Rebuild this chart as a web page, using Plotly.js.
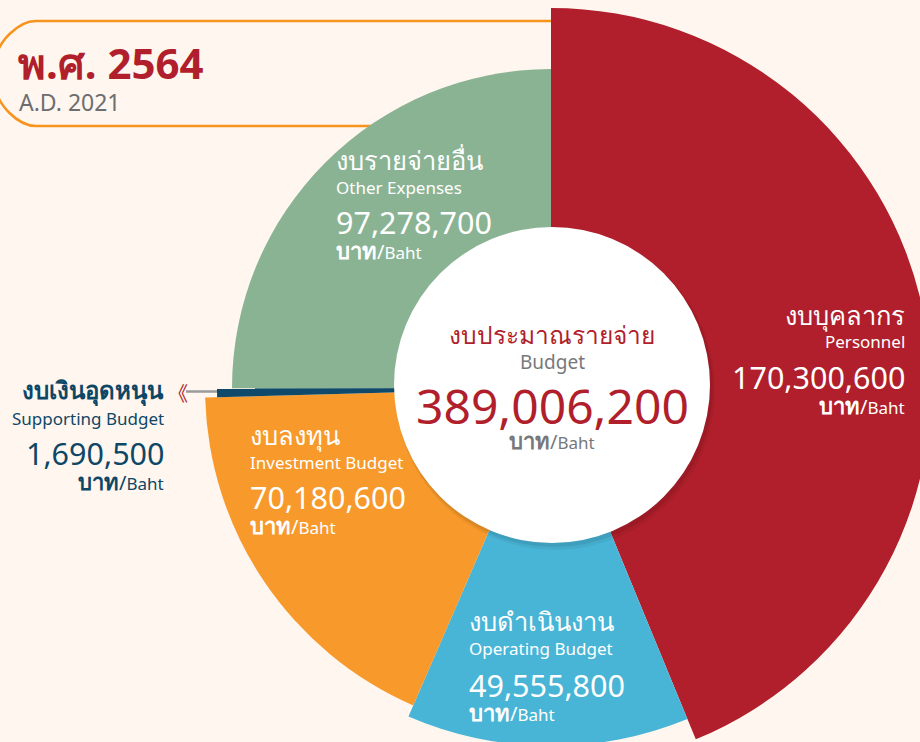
<!DOCTYPE html>
<html>
<head>
<meta charset="utf-8">
<script src="https://cdn.plot.ly/plotly-3.0.1.min.js"></script>
<style>
  html, body { margin: 0; padding: 0; overflow: hidden; background: #FEF6EF; }
  #plot { width: 1000px; height: 800px; }
</style>
</head>
<body>
<div id="plot"></div>
<script>
// ---- data (clockwise from 12 o'clock) ----
const categoriesTh = ['งบบุคลากร', 'งบดำเนินงาน', 'งบลงทุน', 'งบเงินอุดหนุน', 'งบรายจ่ายอื่น'];
const categoriesEn = ['Personnel', 'Operating Budget', 'Investment Budget', 'Supporting Budget', 'Other Expenses'];
const values = [170300600, 49555800, 70180600, 1690500, 97278700];
const totalTh = 'งบประมาณรายจ่าย';
const totalEn = 'Budget';
const totalValue = 389006200;
const yearTh = 'พ.ศ. 2564';
const yearEn = 'A.D. 2021';
const unitTh = 'บาท';
const unitEn = 'Baht';

// ---- styles ----
const colors = ['#B01F2B', '#48B5D6', '#F7992B', '#0F4A6A', '#8AB394'];
const radii = [380, 358, 346, 334, 319];      // display radius of each slice (px)
const textColors = ['#FFFFFF', '#FFFFFF', '#FFFFFF', '#0E4766', '#FFFFFF'];

const W = 1000, H = 800;           // layout is larger than the window; window shows top-left 920x742
const CX = 551, CY = 388, R = 385;
const fx = px => px / W;
const fy = py => 1 - py / H;
const FONT = 'Noto Sans, sans-serif';

// angular geometry derived from the values
const sum = values.reduce((a, b) => a + b, 0);
const widths = values.map(v => v / sum * 360);
const centers = [];
let acc = 0;
widths.forEach(w => { centers.push(acc + w / 2); acc += w; });

const trace = {
  type: 'barpolar',
  r: radii,
  theta: centers,
  width: widths,
  marker: { color: colors, line: { width: 0 } },
  hoverinfo: 'skip',
  showlegend: false
};

const fmt = n => n.toLocaleString('en-US');

// label layout: [x, anchor, yTh, yEn, yNum, yUnit]
const labelPos = [
  [907, 'right', 315, 341, 377, 405],
  [467, 'left', 621, 648, 685, 712],
  [248, 'left', 435, 462, 497, 525],
  [166, 'right', 390, 418, 453, 481],
  [334, 'left', 160, 187, 222, 250]
];

const annotations = [];
function ann(text, x, y, anchor, size, color, extra) {
  annotations.push(Object.assign({
    text: text, x: fx(x), y: fy(y), xref: 'paper', yref: 'paper',
    xanchor: anchor, yanchor: 'middle', showarrow: false,
    font: { family: FONT, size: size, color: color }
  }, extra || {}));
}
function unitText(thSize, enSize) {
  return '<span style="font-size:' + thSize + 'px;font-weight:bold">' + unitTh + '</span>/' +
         '<span style="font-size:' + enSize + 'px">' + unitEn + '</span>';
}

categoriesTh.forEach((th, i) => {
  const p = labelPos[i], c = textColors[i];
  const thText = i === 3 ? '<b>' + th + '</b>' : th;
  ann(thText, p[0], p[2], p[1], i === 3 ? 24 : 25.5, c);
  ann(categoriesEn[i], p[0], p[3], p[1], 17, c);
  ann(fmt(values[i]), p[0], p[4], p[1], 30.5, c);
  ann(unitText(22, 17), p[0], p[5], p[1], 20, c);
});

// center
ann(totalTh, 552, 335, 'center', 24.5, '#B01F2B');
ann(totalEn, 552, 362, 'center', 19, '#77787B');
ann(fmt(totalValue), 552, 406, 'center', 48, '#B01F2B');
ann(unitText(22, 17), 552, 440, 'center', 20, '#77787B');

// year
ann('<b>' + yearTh + '</b>', 16, 63, 'left', 42, '#B01F2B');
ann(yearEn, 17, 102, 'left', 23, '#6D6E71');

// pointer chevron
annotations.push({
  text: '《', x: fx(178), y: fy(392), xref: 'paper', yref: 'paper',
  xanchor: 'center', yanchor: 'middle', showarrow: false,
  font: { family: 'Noto Sans CJK SC', size: 20, color: '#B01F2B' }
});

// ---- shapes ----
const bx0 = -4, bx1 = 552, bt = 21, bb = 126, br = 40, k = br * 0.45;
const boxPath = [
  'M', fx(bx1), fy(bt), 'L', fx(bx0 + br), fy(bt),
  'C', fx(bx0 + br - k), fy(bt), fx(bx0), fy(bt + br - k), fx(bx0), fy(bt + br),
  'L', fx(bx0), fy(bb - br),
  'C', fx(bx0), fy(bb - br + k), fx(bx0 + br - k), fy(bb), fx(bx0 + br), fy(bb),
  'L', fx(bx1), fy(bb)
].join(' ');

function circle(cx, cy, r, fill, layer) {
  return { type: 'circle', xref: 'paper', yref: 'paper', layer: layer,
    x0: fx(cx - r), x1: fx(cx + r), y0: fy(cy + r), y1: fy(cy - r),
    fillcolor: fill, line: { width: 0 } };
}

const shapes = [
  { type: 'path', xref: 'paper', yref: 'paper', layer: 'below', path: boxPath,
    line: { color: '#F7941D', width: 2.5 } },
  { type: 'line', xref: 'paper', yref: 'paper', layer: 'below',
    x0: fx(186), x1: fx(222), y0: fy(391.5), y1: fy(391.5),
    line: { color: '#9A9A9A', width: 2.5 } },
  circle(555, 390, 160, 'rgba(0,0,0,0.05)', 'above'),
  circle(554, 388, 159, 'rgba(0,0,0,0.07)', 'above'),
  circle(552, 385, 158, '#FFFFFF', 'above')
];

const layout = {
  width: W, height: H,
  margin: { l: 0, r: 0, t: 0, b: 0, pad: 0 },
  paper_bgcolor: '#FEF6EF',
  plot_bgcolor: '#FEF6EF',
  showlegend: false,
  polar: {
    domain: { x: [fx(CX - R), fx(CX + R)], y: [fy(CY + R), fy(CY - R)] },
    bgcolor: 'rgba(0,0,0,0)',
    bargap: 0,
    hole: 0,
    radialaxis: { range: [0, R], visible: false, showgrid: false },
    angularaxis: { rotation: 90, direction: 'clockwise', visible: false, showgrid: false }
  },
  shapes: shapes,
  annotations: annotations
};

Plotly.newPlot('plot', [trace], layout, { displayModeBar: false, staticPlot: true });
</script>
</body>
</html>
